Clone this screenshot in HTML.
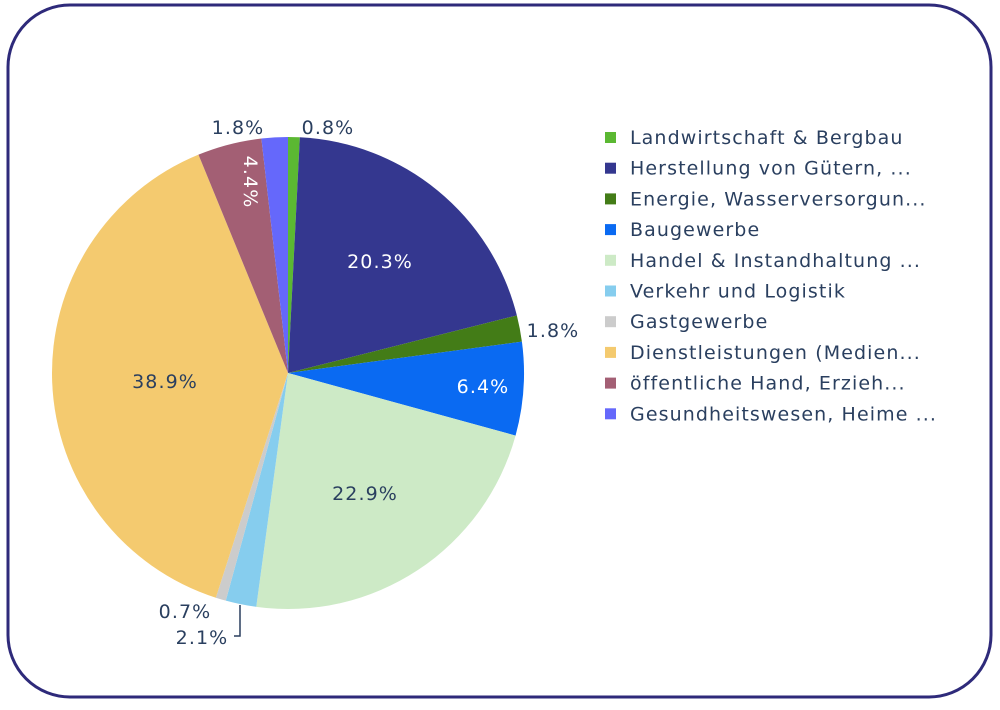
<!DOCTYPE html>
<html><head><meta charset="utf-8"><style>
body{margin:0;background:#fff;width:1000px;height:705px;overflow:hidden}
svg{font-family:"DejaVu Sans","Liberation Sans",sans-serif}
text{letter-spacing:1.1px}
</style></head><body>
<svg id="s" width="1000" height="705" xmlns="http://www.w3.org/2000/svg">
<rect x="8" y="5" width="983" height="692" rx="62" fill="#fff" stroke="#2e2a7a" stroke-width="3"/>
<g id="pie"></g>
<g font-size="19" fill="#2a3f5f" text-anchor="middle">
<text x="380" y="268" fill="#fff">20.3%</text>
<text x="483" y="393" fill="#fff">6.4%</text>
<text x="365" y="500">22.9%</text>
<text x="165" y="388">38.9%</text>
<text x="0" y="0" fill="#fff" transform="translate(244,182) rotate(90)">4.4%</text>
<text x="553" y="337">1.8%</text>
<text x="328" y="134">0.8%</text>
<text x="238" y="134">1.8%</text>
<text x="185" y="618">0.7%</text>
<text x="202" y="644">2.1%</text>
</g>
<path d="M240,605 V636 H234" stroke="#2a3f5f" stroke-width="1.5" fill="none"/>
<g id="leg" font-size="19" fill="#2a3f5f"></g>
</svg>
<script>
var d=[[0.8,"#5bb832","Landwirtschaft & Bergbau"],[20.3,"#34378f","Herstellung von Gütern, ..."],[1.8,"#437c17","Energie, Wasserversorgun..."],[6.4,"#0a6af2","Baugewerbe"],[22.9,"#cdeac6","Handel & Instandhaltung ..."],[2.1,"#86cdee","Verkehr und Logistik"],[0.7,"#cccccc","Gastgewerbe"],[38.9,"#f4ca6f","Dienstleistungen (Medien..."],[4.4,"#a35f74","öffentliche Hand, Erzieh..."],[1.8,"#6568fb","Gesundheitswesen, Heime ..."]];
var cx=288,cy=373,r=236,tot=100.1,a=-Math.PI/2,p="",l="";
d.forEach(function(e,i){var b=a+e[0]/tot*2*Math.PI;
var x1=cx+r*Math.cos(a),y1=cy+r*Math.sin(a),x2=cx+r*Math.cos(b),y2=cy+r*Math.sin(b);
p+='<path d="M'+cx+','+cy+' L'+x1+','+y1+' A'+r+','+r+' 0 '+((b-a)>Math.PI?1:0)+' 1 '+x2+','+y2+' Z" fill="'+e[1]+'"/>';a=b;
var y=137+i*30.7;l+='<rect x="605" y="'+(y-5)+'" width="11" height="11" fill="'+e[1]+'"/><text x="630" y="'+(y+7)+'">'+e[2].replace(/&/g,"&amp;")+'</text>';});
document.getElementById("pie").innerHTML=p;document.getElementById("leg").innerHTML=l;
</script>
</body></html>
